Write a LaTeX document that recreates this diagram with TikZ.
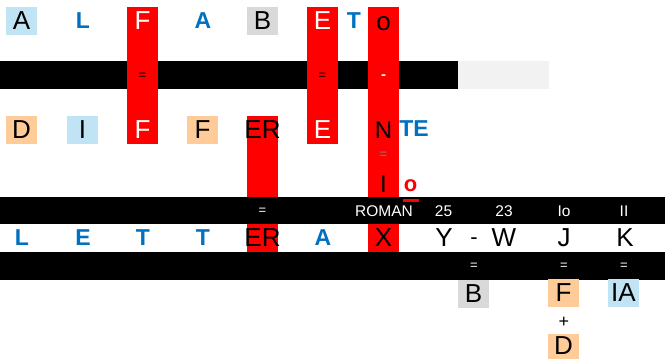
\documentclass[tikz,border=0pt]{standalone}
\usepackage{fontspec}
\setmainfont{Liberation Sans}
\definecolor{lblue}{HTML}{C1E4F5}
\definecolor{gbox}{HTML}{D9D9D9}
\definecolor{peach}{HTML}{FFCC99}
\definecolor{tblue}{HTML}{0070C0}
\definecolor{pale}{HTML}{F2F2F2}
\begin{document}
\begin{tikzpicture}[x=1pt,y=-1pt,
  every node/.style={inner sep=0pt,outer sep=0pt},
  big/.style={font=\fontsize{26}{26}\selectfont},
  mid/.style={font=\fontsize{24}{24}\selectfont},
  bl/.style={font=\bfseries\fontsize{23}{23}\selectfont,text=tblue},
  lab/.style={font=\fontsize{15.5}{15.5}\selectfont,text=white},
  sm/.style={font=\fontsize{13}{13}\selectfont},
  cellbox/.style={big,minimum width=31pt,minimum height=28pt},
  wt/.style={big,text=white}]
\useasboundingbox (0,0) rectangle (665,359);
% bands and columns
\fill[black] (0,61) rectangle (458,89);
\fill[pale] (458,61) rectangle (549,89);
\fill[red] (127,7) rectangle (158,144);
\fill[red] (307,7) rectangle (338,144);
\fill[red] (368,7) rectangle (399,197);
\fill[red] (247,116) rectangle (278,252);
\fill[black] (0,197) rectangle (665,224);
\fill[red] (368,224) rectangle (399,252);
\fill[black] (0,252) rectangle (665,280);
\fill[peach] (548,334) rectangle (579,359);
% row 1
\node[cellbox,fill=lblue] (a1) at (21.5,21) {A};
\node[bl] (l1) at (83,21) {L};
\node[wt] (f1) at (142.5,21) {F};
\node[bl] (a2) at (203,21) {A};
\node[cellbox,fill=gbox] (b1) at (262.5,21) {B};
\node[wt] (e1) at (322.5,21) {E};
\node[bl] (t1) at (354,21) {T};
\node[big] (o1) at (383.5,23.5) {o};
% band 1
\node[sm] (eq1) at (142.5,76) {=};
\node[sm] (eq2) at (322.5,76) {=};
\node[sm,text=white,font=\bfseries\fontsize{15}{15}\selectfont] (dash1) at (383.5,77) {-};
% row 2
\node[cellbox,fill=peach] (d1) at (21.5,130) {D};
\node[cellbox,fill=lblue] (i1) at (82.5,130) {I};
\node[wt] (f2) at (142.5,130) {F};
\node[cellbox,fill=peach] (f3) at (202.5,130) {F};
\node[big] (er1) at (262.5,130) {ER};
\node[wt] (e2) at (322.5,130) {E};
\node[mid] (n1) at (383.5,130) {N};
\node[bl] (te1) at (414,129) {TE};
% between
\node[sm,text=gray] (eq3) at (383.5,155) {=};
\node[mid] (i2) at (383.5,184) {I};
\node[font=\bfseries\fontsize{22}{22}\selectfont,text=red] (o2) at (410.5,186) {o};
\draw[red,line width=2.5pt] (o2.south west)++(-0.5,8.5) coordinate (ul1) -- ++(15.5,0) coordinate (ul2);
% band 2
\node[sm,text=white] (eq4) at (262.5,211) {=};
\node[lab] (roman) at (384,211) {ROMAN};
\node[lab] (n25) at (443.5,211) {25};
\node[lab] (n23) at (504,211) {23};
\node[lab] (io) at (564,211) {Io};
\node[lab] (ii) at (624,211) {II};
% row 3
\node[bl] (l2) at (22,238) {L};
\node[bl] (e3) at (83,238) {E};
\node[bl] (t2) at (143,238) {T};
\node[bl] (t3) at (203,238) {T};
\node[big] (er2) at (262.5,238) {ER};
\node[bl] (a3) at (323,238) {A};
\node[big] (x1) at (383.5,238) {X};
\node[big] (y1) at (444,238) {Y};
\node[font=\fontsize{22}{22}\selectfont] (dash2) at (474,241) {-};
\node[big] (w1) at (504,238) {W};
\node[big] (j1) at (564,238) {J};
\node[big] (k1) at (625,238) {K};
% band 3
\node[sm,text=white] (eq5) at (474,266) {=};
\node[sm,text=white] (eq6) at (564,266) {=};
\node[sm,text=white] (eq7) at (624,266) {=};
% bottom
\node[cellbox,fill=gbox] (b2) at (473.5,293.5) {B};
\node[cellbox,fill=peach] (f4) at (563.5,293) {F};
\node[font=\fontsize{18}{18}\selectfont] (plus) at (564,322) {+};
\node[big] (d2) at (563.5,346) {D};
\node[cellbox,fill=lblue] (ia) at (623.5,293) {IA};
\end{tikzpicture}
\end{document}
